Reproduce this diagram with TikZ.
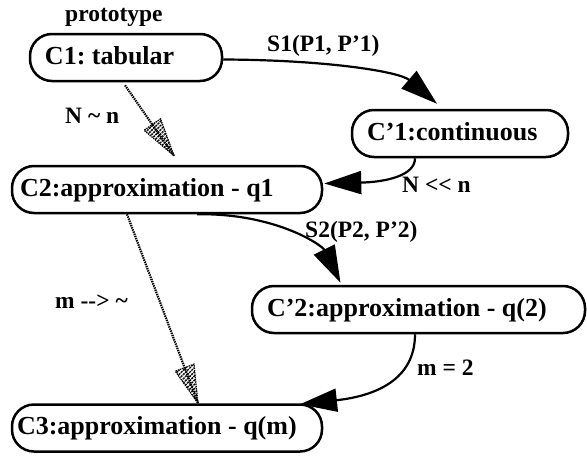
\documentclass[tikz,border=0pt]{standalone}
\usepackage{fontspec}
\setmainfont{Liberation Serif}
\frenchspacing
\usetikzlibrary{arrows.meta,calc,patterns.meta}
\tikzset{
  box/.style={draw, line width=2.5pt, rounded corners=22pt, font=\fontsize{26}{28}\selectfont\bfseries,
    align=flush left, text height=18pt, text depth=5pt, minimum height=47pt},
  lbl/.style={font=\fontsize{23.5}{25}\selectfont\bfseries, anchor=base west, inner sep=0pt},
  conn/.style={line width=2.2pt, -{Triangle[length=37pt,width=23pt]}},
  dotconn/.style={line width=2.2pt, dash pattern=on 1.4pt off 0.9pt},
  hatch/.style={pattern={Lines[angle=45,distance=3pt,line width=1.5pt]}, draw, line width=1.2pt, dash pattern=on 1.4pt off 0.9pt},
}
\newcommand\hatchtip[2]{%
  \path[hatch] (#2) -- ($(#2)!38pt!(#1)!10pt!90:(#2)$) -- ($(#2)!38pt!(#1)!10pt!-90:(#2)$) -- cycle;}
\begin{document}
\begin{tikzpicture}[x=1pt,y=-1pt]
\useasboundingbox (0,0) rectangle (587,456);
% nodes
\node[lbl] (proto) at (65,21) {prototype};
\node[box, text width=162pt, inner xsep=15pt] (c1) at (126,57.5) {C1: tabular};
\node[box, text width=186pt, inner xsep=15pt] (cp1) at (460,133.5) {C’1:continuous};
\node[box, text width=294pt, inner xsep=8pt] (c2) at (167,189.5) {C2:approximation - q1};
\node[box, text width=303pt, inner xsep=15pt] (cp2) at (418.5,309.5) {C’2:approximation - q(2)};
\node[box, text width=300pt, inner xsep=5pt] (c3) at (167,428) {C3:approximation - q(m)};
% labels
\node[lbl] (ls1) at (267,51) {S1(P1, P’1)};
\node[lbl] (lnn) at (402,192) {N <{}< n};
\node[lbl] (lnt) at (65,123) {N \textasciitilde{} n};
\node[lbl] (ls2) at (305,237) {S2(P2, P’2)};
\node[lbl] (lmt) at (55,308) {m -{}-{}> \textasciitilde};
\node[lbl] (lm2) at (417,375) {m = 2};
% coordinates
\coordinate (s1a) at ($(c1.east)+(0,2)$);
\coordinate (s1b) at ($(cp1.north)+(-23,-5)$);
\coordinate (nna) at ($(cp1.south)+(-45,0)$);
\coordinate (nnb) at ($(c2.east)+(1,-6)$);
\coordinate (s2a) at ($(c2.south)+(30,0)$);
\coordinate (s2b) at ($(cp2.north)+(-78,-2)$);
\coordinate (m2a) at ($(cp2.south)+(-3.5,0)$);
\coordinate (m2b) at ($(c3.north)+(133,1)$);
\coordinate (d1a) at ($(c1.south)+(-1,3)$);
\coordinate (d1b) at ($(c2.north)+(7,-9)$);
\coordinate (d2a) at ($(c2.south)+(-40,0)$);
\coordinate (d2b) at ($(c3.north)+(31,0)$);
% solid connectors
\draw[conn] (s1a) .. controls (330,60) and (400,72) .. (s1b);
\draw[conn] (nna) .. controls (415,176) and (385,182) .. (nnb);
\draw[conn] (s2a) .. controls (275,213) and (322,245) .. (s2b);
\draw[conn] (m2a) .. controls (415,380) and (375,396) .. (m2b);
% dotted connectors
\draw[dotconn] (d1a) -- (d1b);
\hatchtip{d1a}{d1b}
\draw[dotconn] (d2a) -- (d2b);
\hatchtip{d2a}{d2b}
\end{tikzpicture}
\end{document}
